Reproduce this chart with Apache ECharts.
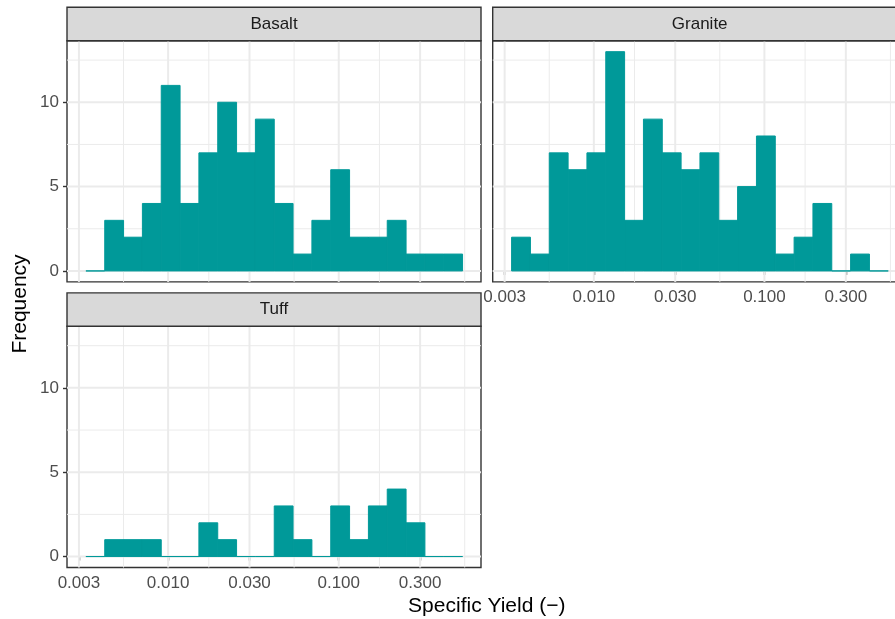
<!DOCTYPE html>
<html><head><meta charset="utf-8">
<script src="https://cdn.jsdelivr.net/npm/echarts@6/dist/echarts.min.js"></script>
<style>html,body{margin:0;padding:0;background:#fff}#c{width:895px;height:619px}</style>
</head><body><div id="c"></div>
<script>
// ---- data ----
const facetNames = ['Basalt', 'Granite', 'Tuff'];
// log10 edges of the 20 histogram bins of Specific Yield
const binEdgesLog10 = [-2.482, -2.3716, -2.2612, -2.1508, -2.0404, -1.930, -1.8196, -1.7092, -1.5988, -1.4884,
  -1.378, -1.2676, -1.1572, -1.0468, -0.9364, -0.826, -0.7156, -0.6052, -0.4948, -0.3844, -0.274];
const basaltCounts  = [0, 3, 2, 4, 11, 4, 7, 10, 7, 9, 4, 1, 3, 6, 2, 2, 3, 1, 1, 1];
const graniteCounts = [2, 1, 7, 6, 7, 13, 3, 9, 7, 6, 7, 3, 5, 8, 1, 2, 4, 0, 1, 0];
const tuffCounts    = [0, 1, 1, 1, 0, 0, 2, 1, 0, 0, 3, 1, 0, 3, 1, 3, 4, 2, 0, 0];
const xTickValues = [0.003, 0.01, 0.03, 0.1, 0.3];
const yTickValues = [0, 5, 10];
const yMinorValues = [2.5, 7.5, 12.5];
const xTitle = 'Specific Yield (\u2212)';
const yTitle = 'Frequency';

// ---- layout / style ----
const X_MIN = -2.5928, X_MAX = -0.1660, Y_MIN = -0.65, Y_MAX = 13.65;
const FONT = 'Liberation Sans, Arial, sans-serif';
const BAR = '#009999';
const panels = [
  {name: facetNames[0], counts: basaltCounts,  left: 67,    top: 40.7,  xLab: false, yLab: true},
  {name: facetNames[1], counts: graniteCounts, left: 492.7, top: 40.7,  xLab: true,  yLab: false},
  {name: facetNames[2], counts: tuffCounts,    left: 67,    top: 326.3, xLab: true,  yLab: true}
];
const PW = 414, PH = 241.2, STRIP = 33.4;

const xMajorLog = xTickValues.map(Math.log10);
const xMinorLog = [];
for (let i = 0; i < xMajorLog.length; i++) {
  const next = i + 1 < xMajorLog.length ? xMajorLog[i + 1] : Math.log10(xTickValues[i] * 10 / 3);
  xMinorLog.push((xMajorLog[i] + next) / 2);
}

const grids = [], xAxes = [], yAxes = [], series = [], graphics = [];
panels.forEach((p, i) => {
  grids.push({left: p.left, top: p.top, width: PW, height: PH, show: true, outerBoundsMode: 'none',
    borderColor: '#333333', borderWidth: 1.4, backgroundColor: '#ffffff', containLabel: false});
  xAxes.push({type: 'value', gridIndex: i, min: X_MIN, max: X_MAX, position: 'bottom',
    axisLine: {show: false}, splitLine: {show: false},
    axisTick: {show: p.xLab, customValues: xMajorLog, length: 4, lineStyle: {color: '#333333', width: 1.4}},
    axisLabel: {show: p.xLab, customValues: xMajorLog, margin: 7, fontSize: 17, color: '#4d4d4d', fontFamily: FONT,
      formatter: v => Math.pow(10, v).toFixed(3)}});
  yAxes.push({type: 'value', gridIndex: i, min: Y_MIN, max: Y_MAX,
    axisLine: {show: false}, splitLine: {show: false},
    axisTick: {show: p.yLab, customValues: yTickValues, length: 4, lineStyle: {color: '#333333', width: 1.4}},
    axisLabel: {show: p.yLab, customValues: yTickValues, margin: 8, fontSize: 17, color: '#4d4d4d', fontFamily: FONT}});
  // grid lines
  const gl = [];
  xMajorLog.forEach(v => gl.push([v, 0, 0, 1]));
  xMinorLog.forEach(v => { if (v > X_MIN && v < X_MAX) gl.push([v, 0, 0, 0]); });
  yTickValues.forEach(v => gl.push([X_MIN, v, 1, 1]));
  yMinorValues.forEach(v => gl.push([X_MIN, v, 1, 0]));
  series.push({type: 'custom', xAxisIndex: i, yAxisIndex: i, z: 1, silent: true,
    encode: {x: 0, y: 1}, data: gl,
    renderItem: (params, api) => {
      const cs = params.coordSys;
      const pt = api.coord([api.value(0), api.value(1)]);
      const w = api.value(3) ? 2 : 1;
      const shape = api.value(2) === 0
        ? {x1: pt[0], y1: cs.y, x2: pt[0], y2: cs.y + cs.height}
        : {x1: cs.x, y1: pt[1], x2: cs.x + cs.width, y2: pt[1]};
      return {type: 'line', shape, style: {stroke: '#ebebeb', lineWidth: w}};
    }});
  // histogram bars
  const bars = p.counts.map((c, k) => [binEdgesLog10[k], binEdgesLog10[k + 1], c]);
  series.push({type: 'custom', xAxisIndex: i, yAxisIndex: i, z: 2, silent: true,
    encode: {x: [0, 1], y: 2}, data: bars,
    renderItem: (params, api) => {
      const a = api.coord([api.value(0), api.value(2)]);
      const b = api.coord([api.value(1), 0]);
      return {type: 'rect', shape: {x: a[0], y: a[1], width: b[0] - a[0], height: b[1] - a[1]},
        style: {fill: BAR, stroke: BAR, lineWidth: 1}};
    }});
  // strip
  graphics.push({type: 'rect', shape: {x: p.left, y: p.top - STRIP, width: PW, height: STRIP},
    style: {fill: '#d9d9d9', stroke: '#333333', lineWidth: 1.4}, z: 10});
  graphics.push({type: 'text', x: p.left + PW / 2, y: p.top - STRIP / 2, z: 11,
    style: {text: p.name, fontSize: 17, fontFamily: FONT, fill: '#1a1a1a', align: 'center', verticalAlign: 'middle'}});
});
graphics.push({type: 'text', x: 486.8, y: 606, style: {text: xTitle, fontSize: 21, fontFamily: FONT, fill: '#000000',
  align: 'center', verticalAlign: 'middle'}});
graphics.push({type: 'text', x: 20, y: 304, rotation: Math.PI / 2, style: {text: yTitle, fontSize: 21, fontFamily: FONT,
  fill: '#000000', align: 'center', verticalAlign: 'middle'}});

const chart = echarts.init(document.getElementById('c'), null, {renderer: 'canvas'});
chart.setOption({animation: false, backgroundColor: '#ffffff', grid: grids, xAxis: xAxes, yAxis: yAxes,
  series, graphic: graphics});
</script></body></html>
